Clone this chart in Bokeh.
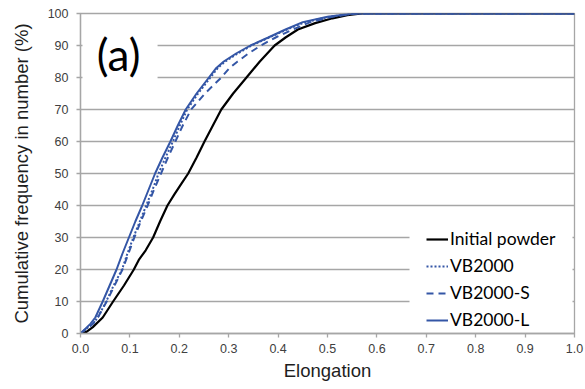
from bokeh.plotting import figure
from bokeh.models import Range1d, FixedTicker, NumeralTickFormatter, Legend, LegendItem, Label, BoxAnnotation
from bokeh.embed import file_html
from bokeh.resources import INLINE

# ---- data ----
init_x = [0.0, 0.012, 0.025, 0.045, 0.066, 0.088, 0.108, 0.118, 0.132, 0.147, 0.161, 0.176, 0.190, 0.205,
          0.218, 0.235, 0.251, 0.268, 0.285, 0.309, 0.336, 0.363, 0.393, 0.415, 0.44, 0.475, 0.51, 0.54, 0.57, 1.0]
init_y = [0, 0.5, 2, 5, 10, 15, 20, 23, 26, 30, 35, 40, 43.5, 47,
          50, 55, 60, 65, 70, 75, 80, 85, 90, 92.5, 95, 97, 98.5, 99.5, 100, 100]

blue_y = [0, 1.5, 3, 5, 10, 15, 20, 25, 30, 35, 40, 45, 50, 55, 60, 65, 70, 75, 80, 83, 85,
          87.5, 90, 92.5, 95, 97.3, 99, 100, 100]
vbl_x = [0.0, 0.01, 0.02, 0.03, 0.045, 0.059, 0.073, 0.085, 0.098, 0.111, 0.125, 0.138, 0.151, 0.166,
         0.182, 0.197, 0.213, 0.235, 0.260, 0.275, 0.290, 0.315, 0.344, 0.38, 0.415, 0.45, 0.50, 0.553, 1.0]
vb_x = [0.0, 0.012, 0.025, 0.035, 0.052, 0.067, 0.084, 0.095, 0.107, 0.12, 0.133, 0.146, 0.158, 0.172,
        0.187, 0.201, 0.216, 0.238, 0.263, 0.278, 0.293, 0.318, 0.346, 0.382, 0.418, 0.455, 0.505, 0.555, 1.0]
vbs_x = [0.0, 0.012, 0.025, 0.035, 0.053, 0.069, 0.085, 0.097, 0.109, 0.122, 0.136, 0.149, 0.163, 0.177,
         0.192, 0.207, 0.224, 0.252, 0.285, 0.302, 0.318, 0.34, 0.365, 0.395, 0.43, 0.465, 0.51, 0.56, 1.0]

series_names = ["Initial powder", "VB2000", "VB2000-S", "VB2000-L"]
x_ticks = [0.0, 0.1, 0.2, 0.3, 0.4, 0.5, 0.6, 0.7, 0.8, 0.9, 1.0]
y_ticks = [0, 10, 20, 30, 40, 50, 60, 70, 80, 90, 100]

BLUE = "#3456a6"
GRID = "#a6a6a6"

p = figure(width=585, height=389, output_backend="svg", toolbar_location=None,
           x_range=Range1d(0, 1), y_range=Range1d(0, 100))
p.min_border_left = 80
p.min_border_right = 11
p.min_border_top = 13
p.min_border_bottom = 56
p.outline_line_color = GRID
p.outline_line_width = 1.3
p.background_fill_color = "white"
p.border_fill_color = "white"

p.xgrid.grid_line_color = None
p.ygrid.grid_line_color = GRID
p.ygrid.grid_line_width = 1.4
p.ygrid.ticker = FixedTicker(ticks=y_ticks)

p.xaxis.ticker = FixedTicker(ticks=x_ticks)
p.xaxis.formatter = NumeralTickFormatter(format="0.0")
p.yaxis.ticker = FixedTicker(ticks=y_ticks)

for ax in (p.xaxis[0], p.yaxis[0]):
    ax.axis_line_color = GRID
    ax.axis_line_width = 1.3
    ax.major_tick_line_color = GRID
    ax.major_tick_line_width = 1.3
    ax.major_tick_in = 0
    ax.major_tick_out = 4
    ax.minor_tick_line_color = None
    ax.major_label_text_font = "Liberation Sans"
    ax.major_label_text_font_size = "12.5px"
    ax.major_label_text_color = "#404040"
    ax.axis_label_text_font = "Liberation Sans"
    ax.axis_label_text_font_size = "18.5px"
    ax.axis_label_text_font_style = "normal"
    ax.axis_label_text_color = "#1e1e1e"

p.xaxis.axis_label = "Elongation"
p.yaxis.axis_label = "Cumulative frequency in number (%)"
p.xaxis.major_label_standoff = 6
p.xaxis.axis_label_standoff = 4
p.yaxis.major_label_standoff = 8
p.yaxis.axis_label_standoff = 13

r_init = p.line(init_x, init_y, line_color="black", line_width=2.2)
r_vbs = p.line(vbs_x, blue_y, line_color=BLUE, line_width=2, line_dash="7 5")
r_vb = p.line(vb_x, blue_y, line_color=BLUE, line_width=2, line_dash="2 2")
r_vbl = p.line(vbl_x, blue_y, line_color=BLUE, line_width=2)

# white masks behind the "(a)" label and the legend (hide gridlines there)
p.add_layout(BoxAnnotation(left=0.004, right=0.156, bottom=72.5, top=97.5,
                           fill_color="white", fill_alpha=1, line_alpha=0))
p.add_layout(BoxAnnotation(left=0.666, right=0.996, bottom=0.5, top=33.0,
                           fill_color="white", fill_alpha=1, line_alpha=0))

p.add_layout(Label(x=0.077, y=87.5, text="(a)", text_font="Lato", text_font_size="44px",
                   text_align="center", text_baseline="middle", text_color="black"))

legend = Legend(items=[LegendItem(label=series_names[0], renderers=[r_init]),
                       LegendItem(label=series_names[1], renderers=[r_vb]),
                       LegendItem(label=series_names[2], renderers=[r_vbs]),
                       LegendItem(label=series_names[3], renderers=[r_vbl])],
                location=(346, 3), padding=0, margin=0, spacing=6,
                glyph_width=22, glyph_height=20, label_height=20, label_standoff=2,
                label_text_font="Lato", label_text_font_size="17.5px", label_text_color="black",
                background_fill_alpha=0, border_line_color=None)
p.add_layout(legend, "center")

open("out.html", "w").write(file_html(p, INLINE))
